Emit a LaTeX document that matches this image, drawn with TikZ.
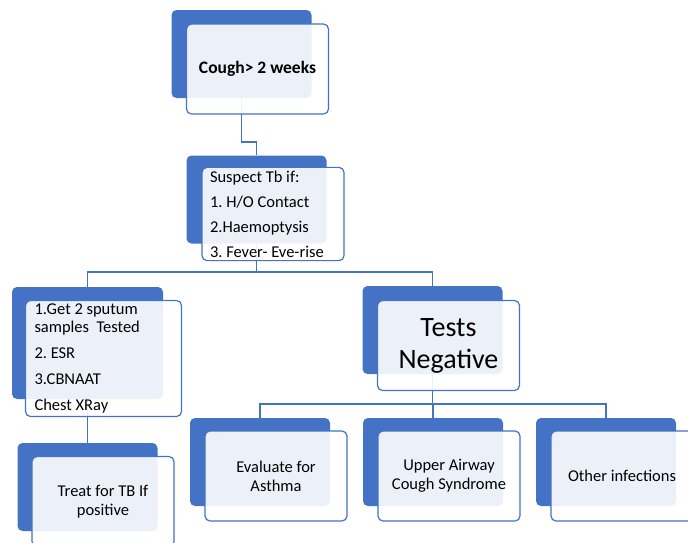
\documentclass[tikz,border=0pt]{standalone}
\usepackage{fontspec}
\setmainfont{Carlito}
\usepackage{tikz}
\usetikzlibrary{positioning,calc}
\definecolor{boxblue}{HTML}{4472C4}
\frenchspacing
\tikzset{
	back/.style={fill=boxblue,rounded corners=5pt,minimum width=140pt,minimum height=88pt},
	front/.style={draw=boxblue,line width=1.2pt,fill=white,fill opacity=0.9,text opacity=1,rounded corners=5pt,minimum width=142pt,minimum height=90pt,inner xsep=8pt},
	link/.style={draw=boxblue,line width=1.5pt},
	lbl/.style={font={\fontsize{16.5}{19}\selectfont}}
}
\begin{document}
\begin{tikzpicture}[x=1pt,y=-1pt]
			\useasboundingbox (0,0) rectangle (688,542);
			\node[back] (coughB) at (241.5,54) {};
			\node[back] (suspectB) at (256.5,199.5) {};
			\node[back,minimum width=151pt,minimum height=112pt] (sputumB) at (87.5,343) {};
			\node[back] (negB) at (432.5,330) {};
			\node[back] (treatB) at (87.5,487) {};
			\node[back] (asthmaB) at (260,462) {};
			\node[back] (airwayB) at (433,462) {};
			\node[back] (otherB) at (606,462) {};
			
			\coordinate (j1) at (0,142);
			\coordinate (j2) at (0,272);
			\coordinate (j3) at (0,404);
			\path[link](coughB.south) -- (coughB.south |- j1) -| (suspectB.north);
			\path[link](suspectB.south) -- (suspectB.south |- j2) -| (sputumB.north);
			\path[link](suspectB.south |- j2) -| (negB.north);
			\path[link](sputumB.south) -- (treatB.north);
			\path[link](negB.south) -- (negB.south |- j3) -| (asthmaB.north);
			\path[link](negB.south |- j3) -| (airwayB.north);
			\path[link](negB.south |- j3) -| (otherB.north);
			
			\node[front,font={\fontsize{17.5}{19}\bfseries\selectfont}] (cough) at (257.5,69) {Cough> 2 weeks};
			\node[front,lbl,text width=126pt,align=flush left] (suspect) at (273,214) {Suspect Tb if:\\[6pt]1. H/O Contact\\[6pt]2.Haemoptysis\\[6pt]3. Fever- Eve-rise};
			\node[front,lbl,minimum width=155pt,minimum height=115pt,text width=138pt,inner xsep=9pt,align=flush left] (sputum) at (103.5,358.5) {1.Get 2 sputum\\[-1pt]samples\ \ Tested\\[7pt]2. ESR\\[7pt]3.CBNAAT\\[7pt]Chest XRay};
			\node[front,font={\fontsize{28}{32}\selectfont},align=center] (neg) at (448.5,345.5) {Tests\\Negative};
			\node[front,lbl,align=center] (treat) at (103,501.5) {Treat for TB If\\positive};
			\node[front,lbl,align=center] (asthma) at (276,476) {Evaluate for\\Asthma};
			\node[front,lbl,align=center] (airway) at (449,476) {Upper Airway\\Cough Syndrome};
			\node[front,lbl,align=center] (other) at (622,476) {Other infections};
\end{tikzpicture}
\end{document}
